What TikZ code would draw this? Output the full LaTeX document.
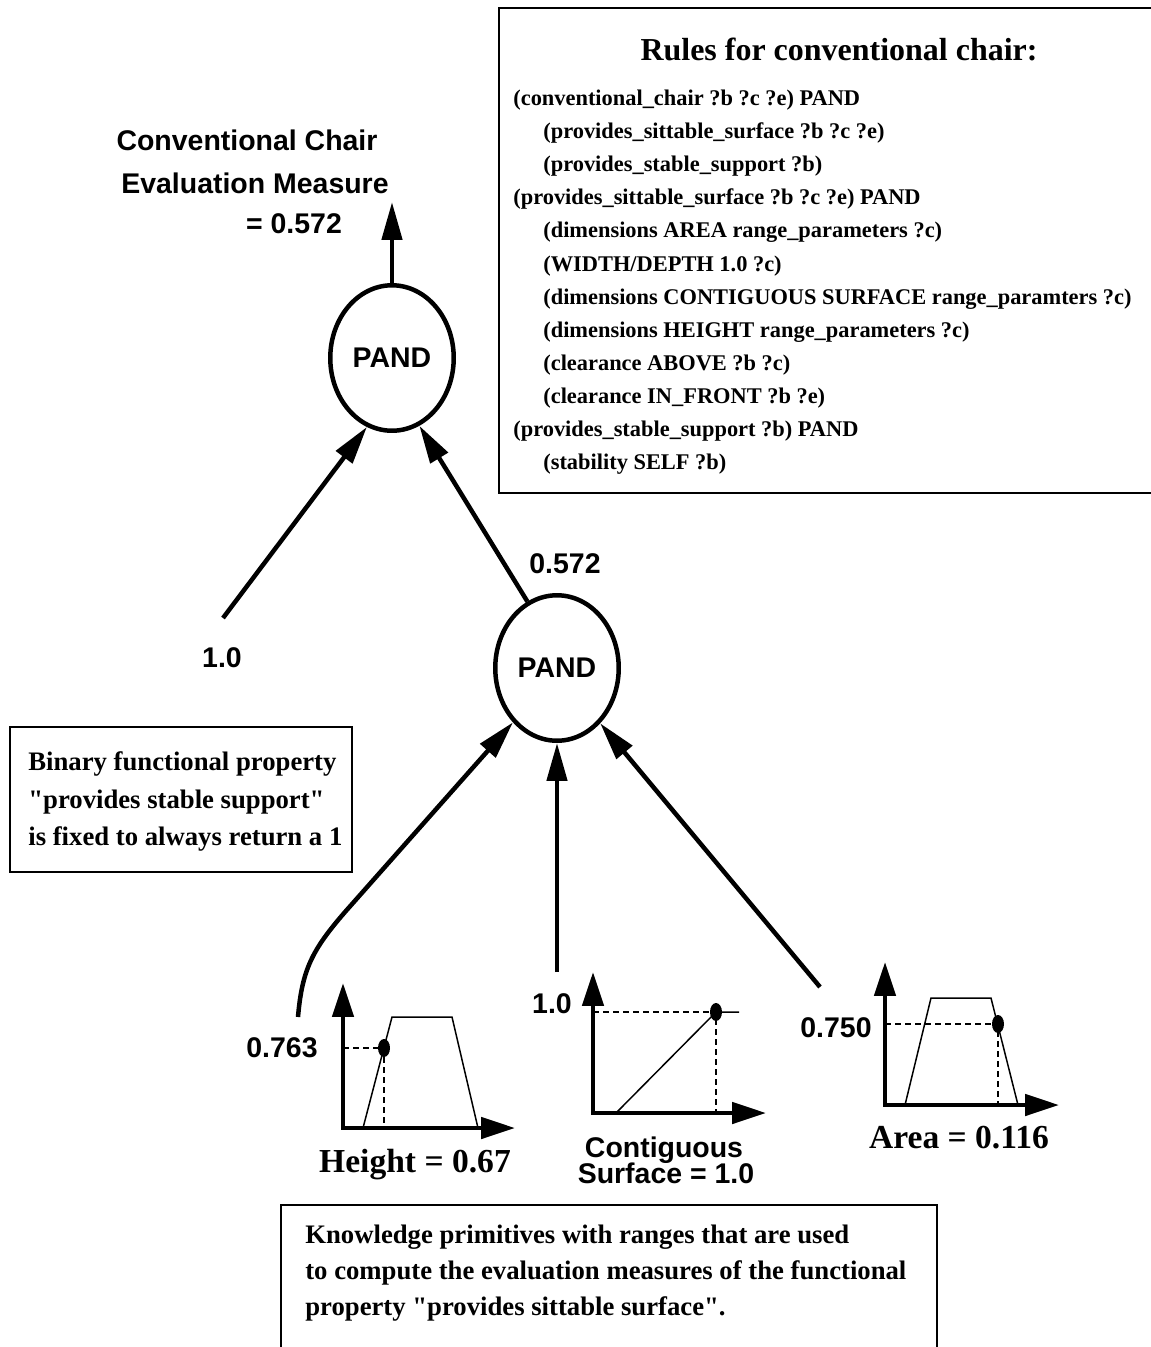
\documentclass[tikz,border=0pt]{standalone}
\usepackage{fontspec}
\setmainfont{Liberation Serif}[Ligatures=TeXOff]
\newfontfamily\hvfont{Liberation Sans}
\usetikzlibrary{arrows.meta,shapes.geometric}

\begin{document}
\begin{tikzpicture}[x=0.02cm,y=-0.02cm,
    pand/.style={draw,ellipse,line width=2.56pt,minimum width=2.47cm,minimum height=2.91cm,inner sep=0pt,font=\hvfont\bfseries\fontsize{16.2}{19}\selectfont},
    bigarrow/.style={line width=2.56pt,-{Triangle[length=21.6pt,width=11.4pt]}},
    axes/.style={line width=2.56pt,{Triangle[length=19.3pt,width=12pt]}-{Triangle[length=19.3pt,width=12pt]}},
    curve/.style={line width=0.85pt},
    guide/.style={line width=0.7pt,dash pattern=on 3.4pt off 2.3pt},
    dot/.style={x radius=0.12cm,y radius=0.18cm},
    frame/.style={line width=1.1pt},
    hvlabel/.style={anchor=base,inner sep=0pt,font=\hvfont\bfseries\fontsize{16.2}{19}\selectfont},
    serlabel/.style={anchor=base,inner sep=0pt,font=\bfseries\fontsize{19.1}{22}\selectfont},
    rule/.style={anchor=base west,inner sep=0pt,font=\bfseries\fontsize{12.75}{15}\selectfont},
    note/.style={anchor=base west,inner sep=0pt,font=\bfseries\fontsize{15.2}{18}\selectfont}]
	\useasboundingbox (0,0) rectangle (1151,1347);
	% evaluation tree
	\node[pand] (topand) at (392,358) {PAND};
	\node[pand] (midand) at (557,668) {PAND};
	\node[hvlabel] (chairA) at (247,150) {Conventional Chair};
	\node[hvlabel] (chairB) at (255,193) {Evaluation Measure};
	\node[hvlabel] (chairC) at (294,233) {= 0.572};
	\coordinate (measure) at (392,202);
	\draw[bigarrow] (topand.north) -- (measure);
	\node[hvlabel] (stable) at (222,667) {1.0};
	\coordinate (stabletail) at (223,618);
	\draw[bigarrow] (stabletail) -- (topand.250);
	\node[hvlabel] (midval) at (565,573) {0.572};
	\draw[bigarrow] (midand.114) -- (topand.292);
	\coordinate (hgttail) at (298,1017);
	\draw[bigarrow] (hgttail) .. controls (302,970) and (312,950) .. (345,912) -- (midand.231);
	\coordinate (contail) at (557,972);
	\draw[bigarrow] (contail) -- (midand.south);
	\coordinate (areatail) at (820,987);
	\draw[bigarrow] (areatail) -- (midand.308);
	% height
	\begin{scope}[shift={(343,1128)}]
	\draw[axes] (0,-145) -- (0,0) -- (172,0);
	\draw[curve] (20,0) -- (49,-111) -- (109,-111) -- (135,0);
	\draw[guide] (0,-80) -- (41,-80) -- (41,0);
	\fill (41,-80) ellipse[dot];
	\end{scope}
	\node[hvlabel] (hgtval) at (282,1057) {0.763};
	\node[serlabel] (hgtname) at (415,1172) {Height = 0.67};
	% contiguous surface
	\begin{scope}[shift={(593,1113)}]
	\draw[axes] (0,-141) -- (0,0) -- (173,0);
	\draw[curve] (23,0) -- (123,-101) -- (146,-101);
	\draw[guide] (0,-101) -- (123,-101) -- (123,0);
	\fill (123,-101) ellipse[dot];
	\end{scope}
	\node[hvlabel] (conval) at (552,1013) {1.0};
	\node[hvlabel] (conname) at (664,1157) {Contiguous};
	\node[hvlabel] (surfname) at (666,1183) {Surface = 1.0};
	% area
	\begin{scope}[shift={(885,1105)}]
	\draw[axes] (0,-143) -- (0,0) -- (174,0);
	\draw[curve] (20,0) -- (46,-107) -- (106,-107) -- (133,0);
	\draw[guide] (0,-81) -- (113,-81) -- (113,0);
	\fill (113,-81) ellipse[dot];
	\end{scope}
	\node[hvlabel] (areaval) at (836,1037) {0.750};
	\node[serlabel] (areaname) at (959,1148) {Area = 0.116};
	% rules
	\draw[frame] (1151,8) -- (499,8) -- (499,493) -- (1151,493);
	\node[anchor=base,inner sep=0pt,font=\bfseries\fontsize{18.2}{22}\selectfont] (rulestitle) at (839,60) {Rules for conventional chair:};
	\node[rule] (rule1) at (513,105) {(conventional\_chair ?b ?c ?e) PAND};
	\node[rule] (rule2) at (543,138) {(provides\_sittable\_surface ?b ?c ?e)};
	\node[rule] (rule3) at (543,171) {(provides\_stable\_support ?b)};
	\node[rule] (rule4) at (513,204) {(provides\_sittable\_surface ?b ?c ?e) PAND};
	\node[rule] (rule5) at (543,237) {(dimensions AREA range\_parameters ?c)};
	\node[rule] (rule6) at (543,271) {(WIDTH/DEPTH 1.0 ?c)};
	\node[rule] (rule7) at (543,304) {(dimensions CONTIGUOUS SURFACE range\_paramters ?c)};
	\node[rule] (rule8) at (543,337) {(dimensions HEIGHT range\_parameters ?c)};
	\node[rule] (rule9) at (543,370) {(clearance ABOVE ?b ?c)};
	\node[rule] (rule10) at (543,403) {(clearance IN\_FRONT ?b ?e)};
	\node[rule] (rule11) at (513,436) {(provides\_stable\_support ?b) PAND};
	\node[rule] (rule12) at (543,469) {(stability SELF ?b)};
	% notes
	\draw[frame] (10,727) rectangle (352,872);
	\node[note] (binA) at (28,770) {Binary functional property};
	\node[note] (binB) at (28,808) {"provides stable support"};
	\node[note] (binC) at (28,845) {is fixed to always return a 1};
	\draw[frame] (281,1347) -- (281,1205) -- (937,1205) -- (937,1347);
	\node[note] (knowA) at (305,1243) {Knowledge primitives with ranges that are used};
	\node[note] (knowB) at (305,1279) {to compute the evaluation measures of the functional};
	\node[note] (knowC) at (305,1315) {property "provides sittable surface".};
\end{tikzpicture}
\end{document}
